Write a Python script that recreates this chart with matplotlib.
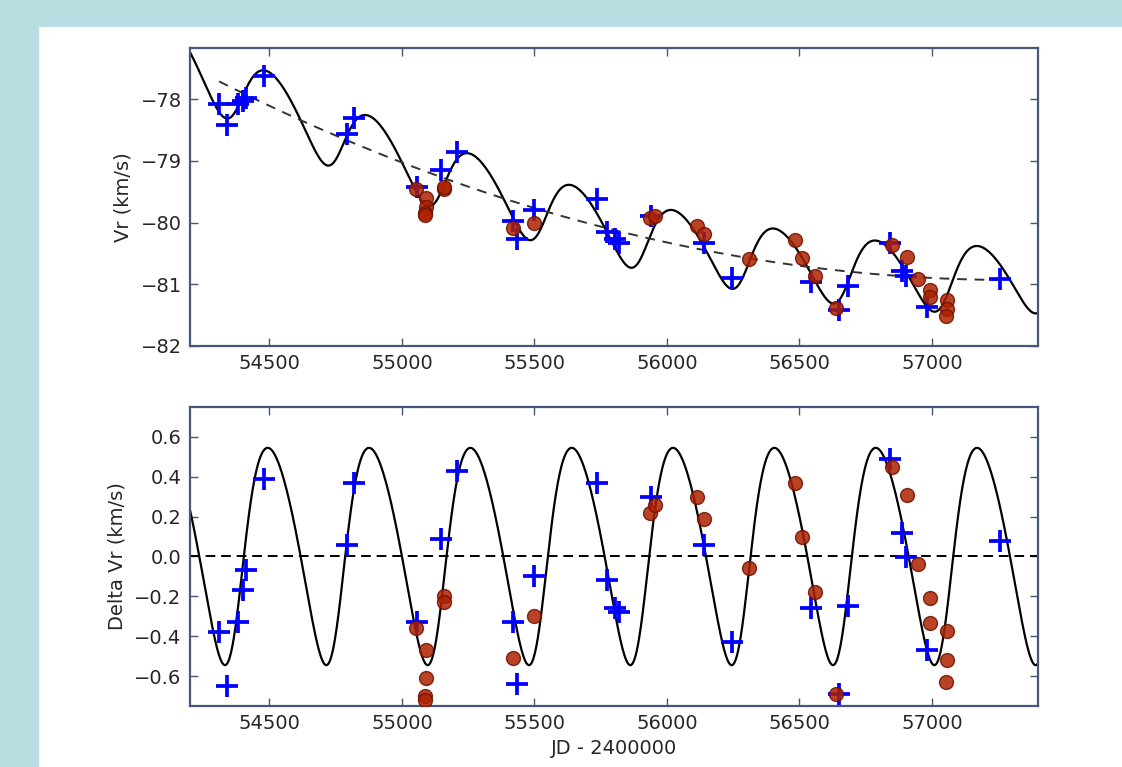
import numpy as np
import matplotlib.pyplot as plt
from matplotlib.patches import Rectangle

# blue crosses: epoch, radial velocity (top), residual from trend (bottom)
jd_cross = [54310, 54338, 54380, 54400, 54412, 54478, 54793, 54818, 55055, 55148,
            55207, 55418, 55435, 55500, 55736, 55773, 55805, 55820, 55940, 56140,
            56245, 56543, 56650, 56685, 56843, 56888, 56903, 56983, 57255]
vr_cross = [-78.08, -78.42, -78.08, -78.03, -77.98, -77.62, -78.56, -78.31, -79.42, -79.15,
            -78.86, -79.97, -80.27, -79.79, -79.62, -80.15, -80.26, -80.33, -79.90, -80.33,
            -80.90, -80.96, -81.42, -81.03, -80.33, -80.79, -80.87, -81.36, -80.91]
dvr_cross = [-0.38, -0.65, -0.33, -0.17, -0.07, 0.39, 0.06, 0.37, -0.33, 0.09,
             0.43, -0.33, -0.64, -0.10, 0.37, -0.12, -0.26, -0.28, 0.30, 0.06,
             -0.43, -0.26, -0.69, -0.25, 0.49, 0.12, -0.005, -0.47, 0.08]

# red dots
jd_dot = [55052, 55092, 55090, 55088, 55088, 55157, 55160, 55419, 55497, 55937,
          55956, 56113, 56140, 56310, 56484, 56509, 56560, 56636, 56848, 56905,
          56948, 56993, 56993, 57055, 57055, 57052]
vr_dot = [-79.45, -79.60, -79.75, -79.85, -79.88, -79.45, -79.43, -80.09, -80.00, -79.93,
          -79.90, -80.06, -80.18, -80.59, -80.29, -80.57, -80.86, -81.39, -80.36, -80.55,
          -80.92, -81.10, -81.20, -81.26, -81.40, -81.52]
dvr_dot = [-0.36, -0.47, -0.61, -0.70, -0.72, -0.20, -0.23, -0.51, -0.30, 0.22,
           0.26, 0.30, 0.19, -0.06, 0.37, 0.10, -0.18, -0.69, 0.45, 0.31,
           -0.04, -0.21, -0.335, -0.375, -0.52, -0.63]

xticks = [54500, 55000, 55500, 56000, 56500, 57000]
xtick_labels = ['54500', '55000', '55500', '56000', '56500', '57000']

# orbit fit
P = 382.4
ecc = 0.155
omega = np.radians(232.5)
K = 0.545
t_peri = 54374.0
# long term trend (dashed curve in the top panel)
trend_v0 = -80.93
trend_t0 = 57300.0
trend_c = 3.6e-7
trend_start, trend_end = 54310, 57255


def orbit(t):
    M = 2*np.pi*(t - t_peri)/P
    E = M.copy()
    for _ in range(30):
        E = E - (E - ecc*np.sin(E) - M)/(1 - ecc*np.cos(E))
    nu = 2*np.arctan2(np.sqrt(1 + ecc)*np.sin(E/2), np.sqrt(1 - ecc)*np.cos(E/2))
    return K*np.cos(nu + omega)


def trend(t):
    return trend_v0 + trend_c*(t - trend_t0)**2


spine_col = '#46577a'
txt_col = '#262626'
plt.rcParams['font.family'] = 'DejaVu Sans'

fig = plt.figure(figsize=(11.22, 7.67), dpi=100, facecolor='#b9dee1')
fig.patches.append(Rectangle((39/1122, 0), 1 - 39/1122, 1 - 27/767, transform=fig.transFigure,
                             facecolor='white', edgecolor='none', zorder=-10))

ax1 = fig.add_axes([0.1693, 0.5489, 0.7558, 0.3885])
ax2 = fig.add_axes([0.1693, 0.0795, 0.7558, 0.3899])

tt = np.linspace(54200, 57400, 2000)
tr = np.linspace(trend_start, trend_end, 500)

ax1.plot(tt, trend(tt) + orbit(tt), color='black', lw=1.6, zorder=2)
ax1.plot(tr, trend(tr), color='#333333', lw=1.4, ls='--', dashes=(5, 4), zorder=2)
ax1.plot(jd_cross, vr_cross, '+', color='#0000ff', ms=16, mew=2.7, zorder=3)
ax1.plot(jd_dot, vr_dot, 'o', color='#ad2200', mec='#6e1000', ms=10, alpha=0.85, zorder=4)

ax2.plot(tt, orbit(tt), color='black', lw=1.6, zorder=2)
ax2.axhline(0, color='black', lw=1.4, ls='--', dashes=(5, 3), zorder=2)
ax2.plot(jd_cross, dvr_cross, '+', color='#0000ff', ms=16, mew=2.7, zorder=3)
ax2.plot(jd_dot, dvr_dot, 'o', color='#ad2200', mec='#6e1000', ms=10, alpha=0.85, zorder=4)

ax1.set_xlim(54200, 57400)
ax1.set_ylim(-82, -77.17)
ax1.set_yticks([-82, -81, -80, -79, -78])
ax2.set_xlim(54200, 57400)
ax2.set_ylim(-0.75, 0.75)
ax2.set_yticks([-0.6, -0.4, -0.2, 0.0, 0.2, 0.4, 0.6])

for ax in (ax1, ax2):
    ax.set_xticks(xticks)
    ax.set_xticklabels(xtick_labels)
    ax.tick_params(direction='in', top=True, right=True, length=6, width=1,
                   color=spine_col, labelsize=14, labelcolor=txt_col, pad=6)
    for s in ax.spines.values():
        s.set_color(spine_col)
        s.set_linewidth(1.6)

ax1.set_ylabel('Vr (km/s)', fontsize=14, color=txt_col)
ax1.yaxis.set_label_coords(-0.068, 0.5)
ax2.set_ylabel('Delta Vr (km/s)', fontsize=14, color=txt_col)
ax2.yaxis.set_label_coords(-0.075, 0.5)
ax2.set_xlabel('JD - 2400000', fontsize=14, color=txt_col)
ax2.xaxis.set_label_coords(0.5, -0.11)

fig.savefig('out.png', dpi=100, facecolor=fig.get_facecolor())
